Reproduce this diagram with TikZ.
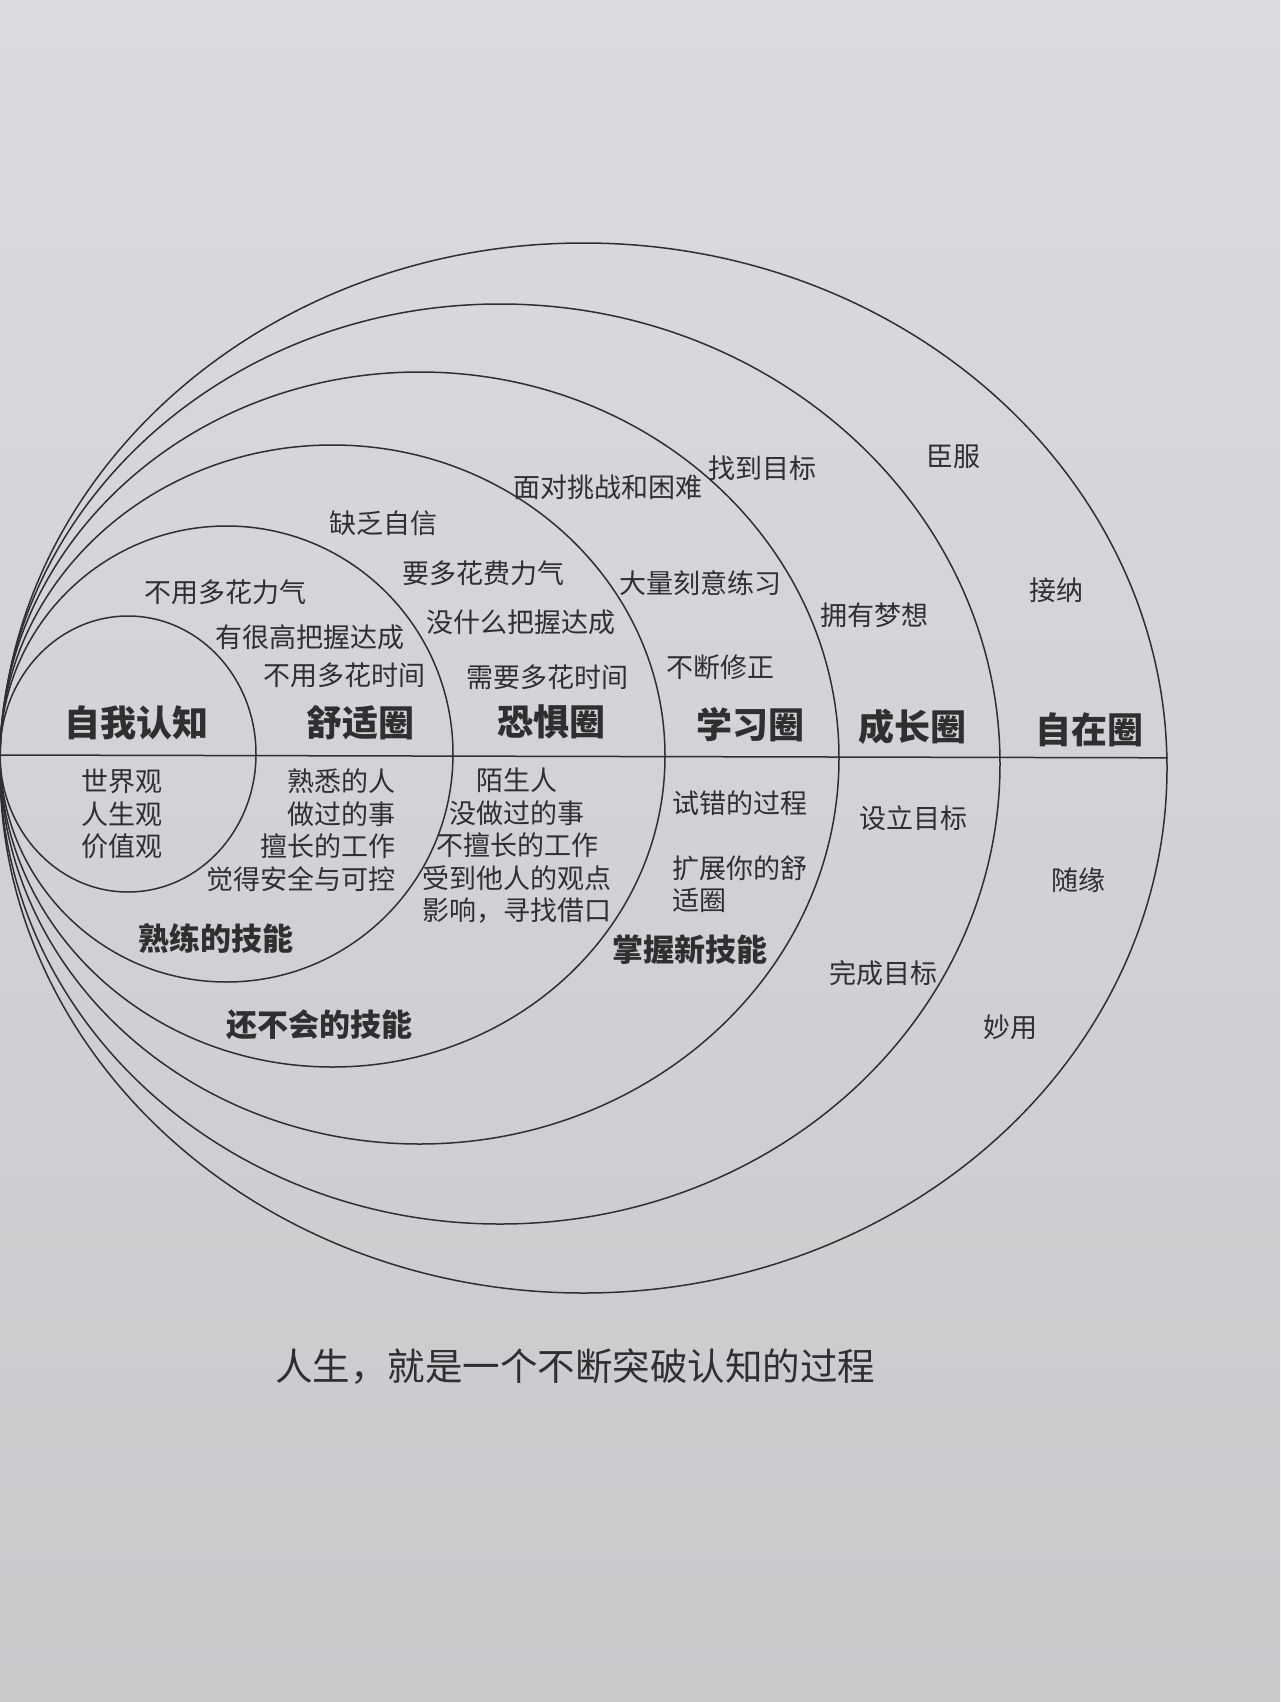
\documentclass[tikz,border=0pt]{standalone}
\usepackage{fontspec}
\setmainfont{Noto Sans CJK SC}
\usetikzlibrary{shapes.geometric}
\definecolor{ink}{HTML}{2F2F31}
\definecolor{paperTop}{HTML}{DADBE0}
\definecolor{paperBot}{HTML}{C9C9CC}
\tikzset{
  ring/.style={draw=ink, line width=1.5pt, ellipse, inner sep=0pt},
  divider/.style={draw=ink, line width=1.5pt},
  lbl/.style={text=ink, inner sep=0pt, font=\fontsize{27}{32.5}\selectfont},
  zone/.style={text=ink, inner sep=0pt, font=\bfseries\fontsize{36}{40}\selectfont},
  skill/.style={text=ink, inner sep=0pt, font=\bfseries\fontsize{31}{36}\selectfont},
  caption/.style={text=ink, inner sep=0pt, font=\fontsize{37.5}{40}\selectfont},
}
\begin{document}
\begin{tikzpicture}[x=1pt,y=-1pt]
\shade[top color=paperTop, bottom color=paperBot] (0,0) rectangle (1280,1702);
\useasboundingbox (0,0) rectangle (1280,1702);

% nested ellipses, all touching at the left edge
\node[ring, minimum width=256pt,  minimum height=276pt]  (e1) at (128,754) {};
\node[ring, minimum width=453pt,  minimum height=456pt]  (e2) at (226.5,754) {};
\node[ring, minimum width=665pt,  minimum height=622pt]  (e3) at (332.5,756) {};
\node[ring, minimum width=839pt,  minimum height=772pt]  (e4) at (419.5,758) {};
\node[ring, minimum width=1000pt, minimum height=920pt]  (e5) at (500,764) {};
\node[ring, minimum width=1167pt, minimum height=1050pt] (e6) at (583.5,768) {};

\coordinate (tp) at (0,755);
\draw[divider] (tp) -- (e6.1);

% zone names
\node[zone] (z1) at (136,723) {自我认知};
\node[zone] (z2) at (360,723) {舒适圈};
\node[zone] (z3) at (551,722) {恐惧圈};
\node[zone] (z4) at (750,725) {学习圈};
\node[zone] (z5) at (912,727) {成长圈};
\node[zone] (z6) at (1089,730) {自在圈};

% upper labels
\node[lbl] (a1) at (225,592) {不用多花力气};
\node[lbl] (a2) at (310,637) {有很高把握达成};
\node[lbl] (a3) at (344,675) {不用多花时间};
\node[lbl] (b0) at (383,523) {缺乏自信};
\node[lbl] (b1) at (483,573) {要多花费力气};
\node[lbl] (b2) at (521,622) {没什么把握达成};
\node[lbl] (b3) at (547,677) {需要多花时间};
\node[lbl] (c0) at (608,487) {面对挑战和困难};
\node[lbl] (c1) at (700,583) {大量刻意练习};
\node[lbl] (c2) at (720,667) {不断修正};
\node[lbl] (d0) at (762,468) {找到目标};
\node[lbl] (d1) at (874,615) {拥有梦想};
\node[lbl] (f0) at (953,457) {臣服};
\node[lbl] (f1) at (1056,590) {接纳};

% lower labels
\node[lbl, align=center] (l1) at (122,814) {世界观\\人生观\\价值观};
\node[lbl, align=right, anchor=east] (l2) at (396,830) {熟悉的人\\做过的事\\擅长的工作\\觉得安全与可控};
\node[lbl, align=center] (l3) at (517,846) {陌生人\\没做过的事\\不擅长的工作\\受到他人的观点\\影响，寻找借口};
\node[lbl, anchor=west] (l4) at (672,803) {试错的过程};
\node[lbl, align=left, anchor=west] (l5) at (672,884) {扩展你的舒\\适圈};
\node[lbl] (l6) at (913,818) {设立目标};
\node[lbl] (l7) at (883,973) {完成目标};
\node[lbl] (l8) at (1078,880) {随缘};
\node[lbl] (l9) at (1010,1027) {妙用};

% skills
\node[skill] (s1) at (216,938) {熟练的技能};
\node[skill] (s2) at (319,1025) {还不会的技能};
\node[skill] (s3) at (690,950) {掌握新技能};

% caption
\node[caption] (cap) at (575,1367) {人生，就是一个不断突破认知的过程};
\end{tikzpicture}
\end{document}
